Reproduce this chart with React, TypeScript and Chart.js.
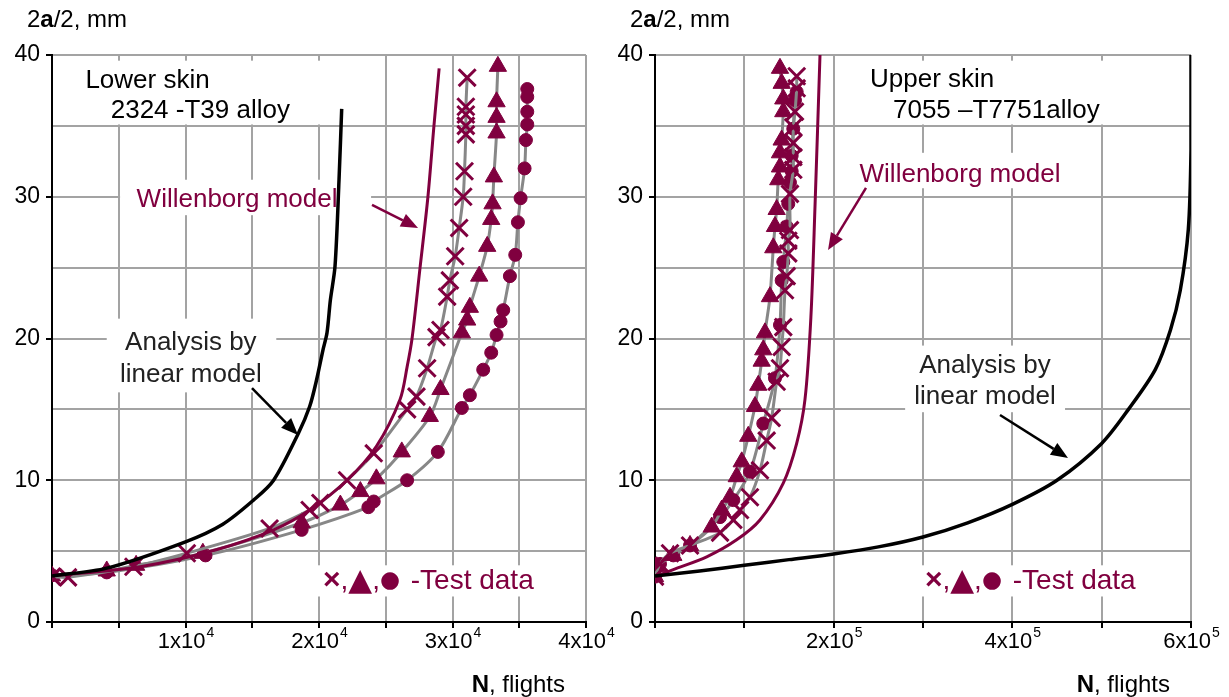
import React, { useEffect, useRef } from 'react';
import { Chart, registerables } from 'chart.js';
Chart.register(...registerables);

const MAROON = '#80003f';
const GRAY_LINE = '#878787';
const GRID = '#a3a3a3';
const FONT = '"Liberation Sans", Arial, "DejaVu Sans", sans-serif';

// ---------- Left chart: Lower skin 2324-T39 ----------
const leftLinearN = [0, 4100, 10000, 12800, 15100, 16600, 18450, 19300, 19800, 20300, 20600, 20850, 21200, 21500, 21700];
const leftLinearA = [3.25, 3.8, 5.66, 6.9, 8.6, 10, 13.3, 15.2, 17, 19.2, 20.4, 22.7, 25.1, 31.2, 36.2];

const leftWillN = [0, 6600, 12300, 16600, 19300, 22100, 24300, 26070, 26600, 26970, 27570, 28160, 28610, 29000];
const leftWillA = [3.25, 3.9, 5.1, 6.5, 7.9, 10, 12.4, 15.7, 18, 20, 25, 30, 35, 39.06];

const leftCrossN = [0, 1200, 6100, 10100, 16300, 19300, 20100, 22100, 24100, 26600, 27300, 28100, 28800, 29100, 29600, 29800, 30200, 30500, 30800, 30900, 31000, 31000, 31000, 31000, 31100];
const leftCrossA = [3.2, 3.15, 3.9, 4.85, 6.6, 7.9, 8.4, 10, 11.9, 15, 15.9, 17.9, 20.1, 20.6, 22.95, 24.1, 25.8, 27.8, 30.0, 31.8, 34.4, 35.0, 35.8, 36.35, 38.4];

const leftTriN = [0, 4100, 6300, 11300, 18700, 21600, 23100, 24300, 26200, 28300, 29100, 30700, 31100, 31300, 32000, 32600, 32900, 33000, 33100, 33300, 33300, 33300, 33400];
const leftTriA = [3.25, 3.6, 4.0, 4.85, 7.0, 8.25, 9.2, 10.1, 12.0, 14.5, 16.4, 20.4, 21.3, 22.2, 24.4, 26.5, 28.4, 29.5, 31.4, 34.5, 35.6, 36.7, 39.2];

const leftCircN = [0, 4100, 11500, 18700, 23700, 24100, 26600, 28900, 30700, 31300, 32300, 32900, 33300, 33600, 33800, 34300, 34700, 34900, 35100, 35400, 35500, 35600, 35600, 35600, 35600];
const leftCircA = [3.3, 3.5, 4.7, 6.5, 8.1, 8.5, 10.0, 12.0, 15.1, 16.0, 17.8, 19.0, 20.25, 21.2, 22.0, 24.4, 25.9, 28.2, 29.9, 32.0, 34.0, 35.1, 36.0, 37.05, 37.6];

const leftXTicks = [10000, 20000, 30000, 40000];
const leftXTickLabels = [['1x10', '4'], ['2x10', '4'], ['3x10', '4'], ['4x10', '4']];

// ---------- Right chart: Upper skin 7055-T7751 ----------
const rightLinearN = [0, 50000, 100000, 150000, 200000, 250000, 300000, 350000, 400000, 450000, 500000, 530000, 560000, 577000, 588000, 597000, 600000, 600000];
const rightLinearA = [3.25, 3.6, 4.0, 4.4, 4.8, 5.3, 6.0, 7.0, 8.3, 10.0, 12.6, 15, 17.8, 20.6, 23.4, 27.7, 33.3, 40];

const rightWillN = [0, 20500, 57900, 91400, 117500, 143600, 158600, 167900, 174500, 179100, 184700];
const rightWillA = [3.2, 3.7, 4.6, 5.8, 7.2, 9.8, 12.6, 15.7, 21.5, 29.3, 40];

const rightTriN = [0, 1900, 20500, 39200, 63500, 74700, 84000, 91500, 97100, 104400, 111900, 115600, 119400, 121200, 123100, 128700, 132400, 134300, 136200, 138000, 139900, 139900, 141800, 143600, 143600, 141800, 139900];
const rightTriA = [3.2, 3.9, 4.7, 5.4, 6.7, 7.9, 8.8, 10.25, 11.3, 13.1, 15.2, 16.7, 18.4, 19.2, 20.4, 22.95, 26.4, 27.9, 29.1, 31.2, 32.1, 33.1, 34.0, 36.0, 36.9, 38.0, 39.06];

const rightCrossN = [0, 5600, 16800, 39200, 72800, 87700, 95200, 106300, 117500, 125000, 130600, 136200, 139900, 141800, 143600, 145500, 147400, 149200, 149200, 151100, 151100, 154800, 154800, 154800, 154800, 156700, 158600, 158600];
const rightCrossA = [3.2, 4.1, 4.85, 5.4, 6.3, 7.2, 7.9, 8.8, 10.7, 12.8, 14.4, 16.95, 17.9, 19.4, 20.8, 23.4, 24.4, 26.0, 26.9, 27.65, 30.2, 31.9, 32.8, 33.8, 34.9, 36.0, 37.65, 38.5];

const rightCircN = [0, 5600, 20500, 39200, 72800, 87700, 106300, 121200, 134300, 139900, 141800, 143600, 147400, 149200, 151100, 153000, 153000, 154800, 156700, 158600];
const rightCircA = [3.2, 4.1, 4.7, 5.4, 7.4, 8.6, 10.6, 14.0, 17.2, 20.95, 24.1, 25.4, 27.9, 29.5, 31.0, 31.8, 32.9, 34.8, 36.8, 37.4];

const rightXTicks = [200000, 400000, 600000];
const rightXTickLabels = [['2x10', '5'], ['4x10', '5'], ['6x10', '5']];

const yTickValues = [0, 10, 20, 30, 40];

type Txt = { t: string; x: number; y: number; align: CanvasTextAlign; color: string; glyphs?: boolean };
type Box = { x0: number; x1: number; y0: number; y1: number };
type Arrow = { x0: number; y0: number; x1: number; y1: number; color: string };
type Spec = {
  boxes: Box[];
  texts: Txt[];
  arrows: Arrow[];
  xTicks: number[];
  xTickLabels: string[][];
};

const TEST_LABEL = '\u00d7,\u25b2,\u25cf -Test data';

const leftSpec: Spec = {
  boxes: [
    { x0: 1700, x1: 20300, y0: 35.1, y1: 39.6 },
    { x0: 5100, x1: 23900, y0: 28.7, y1: 31.2 },
    { x0: 4100, x1: 16800, y0: 16.2, y1: 21.4 },
    { x0: 19900, x1: 37200, y0: 1.8, y1: 4.0 },
  ],
  texts: [
    { t: 'Lower skin', x: 2500, y: 37.7, align: 'left', color: '#000' },
    { t: '2324 -T39 alloy', x: 4400, y: 35.55, align: 'left', color: '#000' },
    { t: 'Willenborg model', x: 13860, y: 29.3, align: 'center', color: MAROON },
    { t: 'Analysis by', x: 10400, y: 19.2, align: 'center', color: '#222' },
    { t: 'linear model', x: 10400, y: 16.93, align: 'center', color: '#222' },
    { t: TEST_LABEL, x: 20300, y: 2.33, align: 'left', color: MAROON, glyphs: true },
  ],
  arrows: [
    { x0: 23970, y0: 29.42, x1: 27420, y1: 27.8, color: MAROON },
    { x0: 14980, y0: 16.5, x1: 18430, y1: 13.19, color: '#000' },
  ],
  xTicks: leftXTicks,
  xTickLabels: leftXTickLabels,
};

const rightSpec: Spec = {
  boxes: [
    { x0: 229500, x1: 507000, y0: 35.1, y1: 39.6 },
    { x0: 222000, x1: 470000, y0: 30.6, y1: 33.1 },
    { x0: 280000, x1: 459000, y0: 14.8, y1: 19.5 },
    { x0: 294000, x1: 552000, y0: 1.8, y1: 4.0 },
  ],
  texts: [
    { t: 'Upper skin', x: 240700, y: 37.74, align: 'left', color: '#000' },
    { t: '7055 \u2013T7751alloy', x: 266400, y: 35.56, align: 'left', color: '#000' },
    { t: 'Willenborg model', x: 341400, y: 31.04, align: 'center', color: MAROON },
    { t: 'Analysis by', x: 369400, y: 17.57, align: 'center', color: '#222' },
    { t: 'linear model', x: 369400, y: 15.38, align: 'center', color: '#222' },
    { t: TEST_LABEL, x: 302200, y: 2.33, align: 'left', color: MAROON, glyphs: true },
  ],
  arrows: [
    { x0: 236200, y0: 30.62, x1: 193700, y1: 26.24, color: MAROON },
    { x0: 386200, y0: 14.6, x1: 462300, y1: 11.57, color: '#000' },
  ],
  xTicks: rightXTicks,
  xTickLabels: rightXTickLabels,
};

function pts(n: number[], a: number[]) {
  return n.map((v, i) => ({ x: v, y: a[i] }));
}

function drawMixed(ctx: CanvasRenderingContext2D, parts: [string, boolean][], x: number, y: number, size: number, align: 'left' | 'right') {
  const widths = parts.map(([s, b]) => {
    ctx.font = `${b ? 'bold ' : ''}${size}px ${FONT}`;
    return ctx.measureText(s).width;
  });
  const total = widths.reduce((p, c) => p + c, 0);
  let cx = align === 'left' ? x : x - total;
  ctx.textAlign = 'left';
  ctx.textBaseline = 'alphabetic';
  ctx.fillStyle = '#000';
  parts.forEach(([s, b], i) => {
    ctx.font = `${b ? 'bold ' : ''}${size}px ${FONT}`;
    ctx.fillText(s, cx, y);
    cx += widths[i];
  });
}

// Draw the "×,▲,● -Test data" string glyph by glyph so the symbols get their own sizes.
function drawGlyphText(ctx: CanvasRenderingContext2D, s: string, x: number, y: number) {
  const segs: { t: string; font: string; dy: number; gap: number }[] = [];
  let rest = '';
  for (const ch of s) {
    if (ch === '\u00d7' || ch === '\u25b2' || ch === '\u25cf' || ch === ',') {
      if (rest) { segs.push({ t: rest, font: `28px ${FONT}`, dy: 0, gap: 0 }); rest = ''; }
      if (ch === '\u00d7') segs.push({ t: ch, font: `bold 30px ${FONT}`, dy: 0, gap: 0 });
      else if (ch === '\u25b2') segs.push({ t: ch, font: `31px "DejaVu Sans"`, dy: 1, gap: 0 });
      else if (ch === '\u25cf') segs.push({ t: ch, font: `23px "DejaVu Sans"`, dy: -2, gap: 3 });
      else segs.push({ t: ch, font: `28px ${FONT}`, dy: 0, gap: 0 });
    } else rest += ch;
  }
  if (rest) segs.push({ t: rest, font: `28px ${FONT}`, dy: 0, gap: 0 });
  let cx = x;
  ctx.textAlign = 'left';
  segs.forEach((g) => {
    ctx.font = g.font;
    ctx.fillText(g.t, cx, y + g.dy);
    cx += ctx.measureText(g.t).width + g.gap;
  });
}

function makePlugin(spec: Spec) {
  return {
    id: 'annot',
    beforeDatasetsDraw(chart: any) {
      const ctx: CanvasRenderingContext2D = chart.ctx;
      const xs = chart.scales.x, ys = chart.scales.y;
      ctx.save();
      ctx.fillStyle = '#fff';
      spec.boxes.forEach((b) => {
        const x0 = xs.getPixelForValue(b.x0), x1 = xs.getPixelForValue(b.x1);
        const y0 = ys.getPixelForValue(b.y1), y1 = ys.getPixelForValue(b.y0);
        ctx.fillRect(x0, y0, x1 - x0, y1 - y0);
      });
      ctx.textBaseline = 'alphabetic';
      spec.texts.forEach((t) => {
        ctx.fillStyle = t.color;
        const px = xs.getPixelForValue(t.x), py = ys.getPixelForValue(t.y);
        if (t.glyphs) {
          drawGlyphText(ctx, t.t, px, py);
        } else {
          ctx.font = `26px ${FONT}`;
          ctx.textAlign = t.align;
          ctx.fillText(t.t, px, py);
        }
      });
      ctx.restore();
    },
    afterDatasetsDraw(chart: any) {
      const ctx: CanvasRenderingContext2D = chart.ctx;
      const xs = chart.scales.x, ys = chart.scales.y;
      ctx.save();
      spec.arrows.forEach((a) => {
        const x0 = xs.getPixelForValue(a.x0), y0 = ys.getPixelForValue(a.y0);
        const x1 = xs.getPixelForValue(a.x1), y1 = ys.getPixelForValue(a.y1);
        const ang = Math.atan2(y1 - y0, x1 - x0);
        const L = 17, W = 7;
        const bx = x1 - Math.cos(ang) * L, by = y1 - Math.sin(ang) * L;
        ctx.strokeStyle = a.color;
        ctx.fillStyle = a.color;
        ctx.lineWidth = 2.5;
        ctx.beginPath();
        ctx.moveTo(x0, y0);
        ctx.lineTo(bx, by);
        ctx.stroke();
        ctx.beginPath();
        ctx.moveTo(x1, y1);
        ctx.lineTo(bx + Math.sin(ang) * W, by - Math.cos(ang) * W);
        ctx.lineTo(bx - Math.sin(ang) * W, by + Math.cos(ang) * W);
        ctx.closePath();
        ctx.fill();
      });
      ctx.restore();
    },
    afterDraw(chart: any) {
      const ctx: CanvasRenderingContext2D = chart.ctx;
      const xs = chart.scales.x;
      const area = chart.chartArea;
      ctx.save();
      ctx.fillStyle = '#000';
      ctx.textBaseline = 'alphabetic';
      spec.xTicks.forEach((v, i) => {
        const [base, exp] = spec.xTickLabels[i];
        ctx.font = `22px ${FONT}`;
        const wb = ctx.measureText(base).width;
        ctx.font = `14px ${FONT}`;
        const we = ctx.measureText(exp).width;
        const cx = xs.getPixelForValue(v);
        const left = cx - (wb + we) / 2;
        ctx.font = `22px ${FONT}`;
        ctx.textAlign = 'left';
        ctx.fillText(base, left, area.bottom + 26);
        ctx.font = `14px ${FONT}`;
        ctx.fillText(exp, left + wb + 1, area.bottom + 15);
      });
      drawMixed(ctx, [['2', false], ['a', true], ['/2, mm', false]], area.left - 25, 27, 24, 'left');
      drawMixed(ctx, [['N', true], [', flights', false]], area.right - 21, 692, 24, 'right');
      ctx.restore();
    },
  };
}

function makeConfig(
  spec: Spec,
  xMax: number,
  xStep: number,
  yWidth: number,
  padRight: number,
  linear: { n: number[]; a: number[] },
  will: { n: number[]; a: number[] },
  cross: { n: number[]; a: number[] },
  tri: { n: number[]; a: number[] },
  circ: { n: number[]; a: number[] },
): any {
  const testDs = (d: { n: number[]; a: number[] }, style: string, r: number, bw: number) => ({
    data: pts(d.n, d.a),
    showLine: true,
    borderColor: GRAY_LINE,
    borderWidth: 3,
    tension: 0.3,
    pointStyle: style,
    pointRadius: r,
    pointBackgroundColor: MAROON,
    pointBorderColor: MAROON,
    pointBorderWidth: bw,
  });
  return {
    type: 'scatter',
    data: {
      datasets: [
        { data: pts(linear.n, linear.a), showLine: true, borderColor: '#000', borderWidth: 3.5, tension: 0.3, pointRadius: 0 },
        { data: pts(will.n, will.a), showLine: true, borderColor: MAROON, borderWidth: 3, tension: 0.3, pointRadius: 0 },
        testDs(cross, 'crossRot', 12, 3),
        testDs(tri, 'triangle', 10, 1),
        testDs(circ, 'circle', 6.5, 1),
      ],
    },
    options: {
      responsive: false,
      animation: false,
      devicePixelRatio: 1,
      layout: { padding: { left: 0, right: padRight, top: 55, bottom: 0 } },
      plugins: { legend: { display: false }, tooltip: { enabled: false }, title: { display: false } },
      scales: {
        x: {
          type: 'linear',
          min: 0,
          max: xMax,
          afterFit: (s: any) => { s.height = 75; },
          ticks: { stepSize: xStep, autoSkip: false, callback: () => '', font: { size: 1 } },
          grid: { color: GRID, lineWidth: 2, tickColor: '#000', tickLength: 6, tickWidth: 2 },
          border: { color: '#000', width: 2 },
        },
        y: {
          type: 'linear',
          min: 0,
          max: 40,
          afterFit: (s: any) => { s.width = yWidth; },
          ticks: {
            stepSize: 5,
            autoSkip: false,
            padding: 6,
            color: '#000',
            font: { family: FONT, size: 23 },
            callback: (v: any) => (yTickValues.includes(Number(v)) ? String(v) : ''),
          },
          grid: {
            color: GRID,
            lineWidth: 2,
            tickLength: 6,
            tickWidth: 2,
            tickColor: (c: any) => (c.tick && yTickValues.includes(c.tick.value) ? '#000' : 'rgba(0,0,0,0)'),
          },
          border: { color: '#000', width: 2 },
        },
      },
    },
    plugins: [makePlugin(spec)],
  };
}

function ChartCanvas({ config, width, height, left }: { config: () => any; width: number; height: number; left: number }) {
  const ref = useRef<HTMLCanvasElement | null>(null);
  useEffect(() => {
    if (!ref.current) return;
    const chart = new Chart(ref.current, config());
    return () => chart.destroy();
  }, []);
  return (
    <canvas
      ref={ref}
      width={width}
      height={height}
      style={{ position: 'absolute', left, top: 0, width, height }}
    />
  );
}

export default function App() {
  return (
    <div style={{ position: 'absolute', left: 0, top: 0, width: 1229, height: 697, background: '#fff', overflow: 'hidden' }}>
      <ChartCanvas
        left={0}
        width={620}
        height={697}
        config={() =>
          makeConfig(
            leftSpec, 40000, 5000, 52, 34,
            { n: leftLinearN, a: leftLinearA },
            { n: leftWillN, a: leftWillA },
            { n: leftCrossN, a: leftCrossA },
            { n: leftTriN, a: leftTriA },
            { n: leftCircN, a: leftCircA },
          )
        }
      />
      <ChartCanvas
        left={600}
        width={629}
        height={697}
        config={() =>
          makeConfig(
            rightSpec, 600000, 100000, 55, 38,
            { n: rightLinearN, a: rightLinearA },
            { n: rightWillN, a: rightWillA },
            { n: rightCrossN, a: rightCrossA },
            { n: rightTriN, a: rightTriA },
            { n: rightCircN, a: rightCircA },
          )
        }
      />
    </div>
  );
}
